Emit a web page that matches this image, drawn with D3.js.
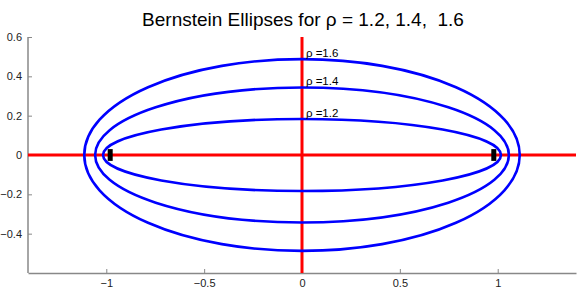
<!DOCTYPE html>
<html lang="en">
<head>
<meta charset="UTF-8">
<script src="https://d3js.org/d3.v7.min.js"></script>
<style>
  body { margin: 0; background: #fff; }
  text { font-family: "Liberation Sans", Arial, sans-serif; }
</style>
</head>
<body>
<div id="viz"></div>
<script>
// rho values and the ellipse semi-axes
const rhos = [1.2, 1.4, 1.6]
const semiMajor = [1.0167, 1.0571, 1.1125]
const semiMinor = [0.1833, 0.3429, 0.4875]
const markerX = [-0.98, 0.98]
const xTicks = [-1, -0.5, 0, 0.5, 1]
const yTicks = [-0.4, -0.2, 0, 0.2, 0.4, 0.6]

const fullWidth = 581, fullHeight = 290
const margins = { top: 37, right: 5, bottom: 17, left: 28 }

const svg = d3.select("#viz").append("svg")
    .attr("width", fullWidth)
    .attr("height", fullHeight)

const x = d3.scaleLinear().domain([-1.4, 1.4]).range([margins.left, fullWidth - margins.right])
const y = d3.scaleLinear().domain([-0.6, 0.6]).range([fullHeight - margins.bottom, margins.top])

// title (keep the double space)
svg.append("text")
    .attr("x", 303).attr("y", 26)
    .attr("text-anchor", "middle")
    .attr("font-size", 19)
    .style("white-space", "pre")
    .text("Bernstein Ellipses for \u03c1 = 1.2, 1.4,  1.6")

const fmt = d => d3.format("")(d).replace("-", "\u2212")

// axes (matlab style, ticks inward)
const xAxis = svg.append("g")
    .attr("transform", `translate(0,${y(-0.6)})`)
    .call(d3.axisBottom(x).tickValues(xTicks).tickSizeInner(-4).tickSizeOuter(0).tickPadding(6).tickFormat(fmt))
const yAxis = svg.append("g")
    .attr("transform", `translate(${x(-1.4)},0)`)
    .call(d3.axisLeft(y).tickValues(yTicks).tickSizeInner(-4).tickSizeOuter(0).tickPadding(6).tickFormat(fmt))
// y axis line runs the full range
yAxis.select(".domain").attr("d", `M0,${y(-0.6)}V${y(0.6)}`)

svg.selectAll(".domain").attr("stroke", "#888").attr("stroke-width", 1.5)
svg.selectAll(".tick line").attr("stroke", "#888")
svg.selectAll(".tick text").attr("font-size", 11).attr("fill", "#222")

// red axes through origin
svg.append("line")
    .attr("x1", x(-1.4)).attr("x2", x(1.4))
    .attr("y1", y(0)).attr("y2", y(0))
    .attr("stroke", "#ff0000").attr("stroke-width", 3)
svg.append("line")
    .attr("x1", x(0)).attr("x2", x(0))
    .attr("y1", y(0.6)).attr("y2", y(-0.6))
    .attr("stroke", "#ff0000").attr("stroke-width", 3)

// ellipses
svg.selectAll(".ell")
    .data(rhos)
    .enter()
    .append("ellipse")
    .attr("cx", x(0)).attr("cy", y(0))
    .attr("rx", (d, i) => x(semiMajor[i]) - x(0))
    .attr("ry", (d, i) => y(0) - y(semiMinor[i]))
    .attr("fill", "none")
    .attr("stroke", "#0000ff")
    .attr("stroke-width", 2.6)

// labels
svg.selectAll(".lab")
    .data(rhos)
    .enter()
    .append("text")
    .attr("x", x(0.02))
    .attr("y", (d, i) => y(semiMinor[i] + 0.012))
    .attr("font-size", 11.5)
    .text(d => "\u03c1 =" + d)

// black markers near -1 and 1
svg.selectAll(".mk")
    .data(markerX)
    .enter()
    .append("rect")
    .attr("x", d => x(d) - 2.5)
    .attr("y", y(0.03))
    .attr("width", 5)
    .attr("height", y(-0.03) - y(0.03))
    .attr("fill", "#000")
</script>
</body>
</html>
